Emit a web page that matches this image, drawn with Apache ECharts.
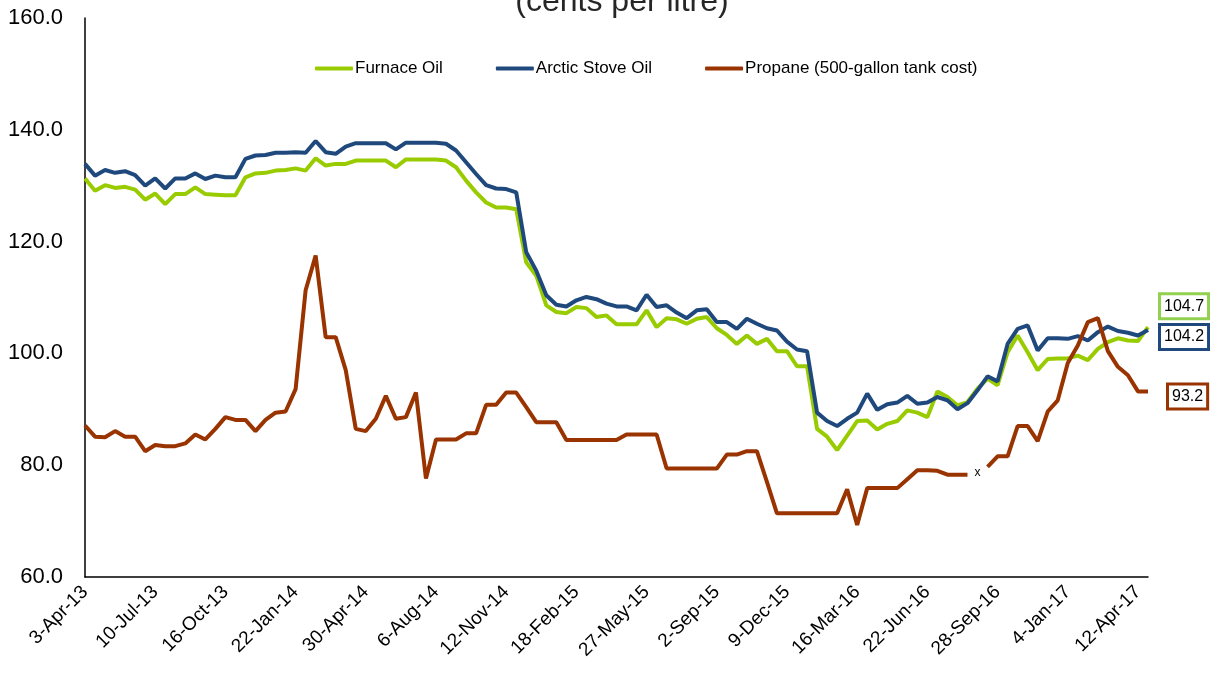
<!DOCTYPE html>
<html>
<head>
<meta charset="utf-8">
<title>Heating fuel prices</title>
<script src="https://cdn.jsdelivr.net/npm/echarts@6/dist/echarts.min.js"></script>
<style>
  html, body { margin: 0; padding: 0; background: #fff; }
  #chart { width: 1210px; height: 674px; }
</style>
</head>
<body>
<div id="chart"></div>
<script>
// every second Wednesday, 3-Apr-13 .. 26-Apr-17
const dates = [
  '3-Apr-13', '17-Apr-13', '1-May-13', '15-May-13', '29-May-13', '12-Jun-13', '26-Jun-13',
  '10-Jul-13', '24-Jul-13', '7-Aug-13', '21-Aug-13', '4-Sep-13', '18-Sep-13', '2-Oct-13',
  '16-Oct-13', '30-Oct-13', '13-Nov-13', '27-Nov-13', '11-Dec-13', '25-Dec-13', '8-Jan-14',
  '22-Jan-14', '5-Feb-14', '19-Feb-14', '5-Mar-14', '19-Mar-14', '2-Apr-14', '16-Apr-14',
  '30-Apr-14', '14-May-14', '28-May-14', '11-Jun-14', '25-Jun-14', '9-Jul-14', '23-Jul-14',
  '6-Aug-14', '20-Aug-14', '3-Sep-14', '17-Sep-14', '1-Oct-14', '15-Oct-14', '29-Oct-14',
  '12-Nov-14', '26-Nov-14', '10-Dec-14', '24-Dec-14', '7-Jan-15', '21-Jan-15', '4-Feb-15',
  '18-Feb-15', '4-Mar-15', '18-Mar-15', '1-Apr-15', '15-Apr-15', '29-Apr-15', '13-May-15',
  '27-May-15', '10-Jun-15', '24-Jun-15', '8-Jul-15', '22-Jul-15', '5-Aug-15', '19-Aug-15',
  '2-Sep-15', '16-Sep-15', '30-Sep-15', '14-Oct-15', '28-Oct-15', '11-Nov-15', '25-Nov-15',
  '9-Dec-15', '23-Dec-15', '6-Jan-16', '20-Jan-16', '3-Feb-16', '17-Feb-16', '2-Mar-16',
  '16-Mar-16', '30-Mar-16', '13-Apr-16', '27-Apr-16', '11-May-16', '25-May-16', '8-Jun-16',
  '22-Jun-16', '6-Jul-16', '20-Jul-16', '3-Aug-16', '17-Aug-16', '31-Aug-16', '14-Sep-16',
  '28-Sep-16', '12-Oct-16', '26-Oct-16', '9-Nov-16', '23-Nov-16', '7-Dec-16', '21-Dec-16',
  '4-Jan-17', '18-Jan-17', '1-Feb-17', '15-Feb-17', '1-Mar-17', '15-Mar-17', '29-Mar-17',
  '12-Apr-17', '26-Apr-17'
];

const furnaceOil = [
  131.3, 129.1, 130.1, 129.6, 129.8, 129.3, 127.5,
  128.6, 126.7, 128.5, 128.5, 129.7, 128.5, 128.4,
  128.3, 128.3, 131.5, 132.2, 132.3, 132.7, 132.8,
  133.1, 132.7, 134.9, 133.6, 133.9, 133.9, 134.5,
  134.5, 134.5, 134.5, 133.3, 134.7, 134.7, 134.7,
  134.7, 134.5, 133.3, 130.9, 128.8, 127.0, 126.1,
  126.1, 125.8, 116.3, 113.9, 108.6, 107.4, 107.2,
  108.3, 108.1, 106.5, 106.8, 105.2, 105.2, 105.2,
  107.7, 104.7, 106.3, 106.1, 105.3, 106.2, 106.5,
  104.5, 103.3, 101.7, 103.2, 101.7, 102.6, 100.4,
  100.4, 97.7, 97.7, 86.5, 85.1, 82.7, 85.3,
  87.9, 88.0, 86.4, 87.4, 87.9, 89.8, 89.4,
  88.6, 93.2, 92.2, 90.7, 91.3, 93.7, 95.5,
  94.3, 100.2, 103.2, 100.2, 97.0, 99.0, 99.1,
  99.1, 99.6, 98.8, 100.8, 102.0, 102.7, 102.3,
  102.2, 104.7
];

const arcticStoveOil = [
  133.9, 131.8, 132.8, 132.3, 132.6, 131.9, 130.0,
  131.3, 129.5, 131.3, 131.3, 132.2, 131.2, 131.8,
  131.5, 131.5, 134.8, 135.4, 135.5, 135.9, 135.9,
  136.0, 135.9, 138.0, 136.0, 135.7, 137.0, 137.6,
  137.6, 137.6, 137.6, 136.5, 137.7, 137.7, 137.7,
  137.7, 137.5, 136.3, 134.2, 132.1, 130.1, 129.5,
  129.4, 128.8, 118.1, 114.8, 110.4, 108.7, 108.4,
  109.5, 110.1, 109.7, 108.9, 108.4, 108.4, 107.7,
  110.5, 108.3, 108.6, 107.3, 106.3, 107.7, 107.9,
  105.6, 105.6, 104.4, 106.2, 105.3, 104.5, 104.1,
  102.1, 100.7, 100.4, 89.4, 87.9, 87.0, 88.3,
  89.4, 92.8, 89.9, 90.9, 91.2, 92.4, 91.0,
  91.2, 92.2, 91.6, 90.0, 91.1, 93.4, 95.9,
  95.0, 101.7, 104.4, 105.0, 100.5, 102.7, 102.7,
  102.6, 103.1, 102.3, 103.8, 104.8, 104.0, 103.7,
  103.2, 104.2
];

// one week has no propane price (marked "x" on the chart)
const propane = [
  87.1, 85.1, 85.0, 86.1, 85.1, 85.1, 82.5,
  83.6, 83.4, 83.4, 83.9, 85.5, 84.6, 86.5,
  88.6, 88.1, 88.1, 86.1, 88.1, 89.4, 89.6,
  93.6, 111.3, 117.5, 102.9, 102.9, 97.0, 86.5,
  86.1, 88.3, 92.4, 88.3, 88.6, 93.0, 77.6,
  84.6, 84.6, 84.6, 85.7, 85.7, 90.8, 90.8,
  93.0, 93.0, 90.4, 87.7, 87.7, 87.7, 84.5,
  84.5, 84.5, 84.5, 84.5, 84.5, 85.5, 85.5,
  85.5, 85.5, 79.4, 79.4, 79.4, 79.4, 79.4,
  79.4, 81.9, 81.9, 82.5, 82.5, 77.0, 71.4,
  71.4, 71.4, 71.4, 71.4, 71.4, 71.4, 75.7,
  69.3, 75.9, 75.9, 75.9, 75.9, 77.5, 79.1,
  79.1, 79.0, 78.3, 78.3, 78.3, null, 79.7,
  81.6, 81.6, 87.0, 87.0, 84.3, 89.6, 91.6,
  98.3, 101.4, 105.6, 106.3, 100.4, 97.6, 96.1,
  93.2, 93.2
];
const propaneGapDate = '31-Aug-16';
const propaneGapLevel = 78.7;

const yTicks = { min: 60, max: 160, interval: 20 };

const FONT = '"Liberation Sans", Arial, sans-serif';
const GREEN = '#99cc00';
const BLUE = '#1f497d';
const RUST = '#993300';

function endLabel(border, offset) {
  return {
    show: true,
    formatter: (p) => p.value.toFixed(1),
    color: '#000',
    fontSize: 16,
    fontFamily: FONT,
    backgroundColor: '#fff',
    borderColor: border,
    borderWidth: 3,
    padding: [3, 3],
    distance: 8,
    offset: offset
  };
}

const chart = echarts.init(document.getElementById('chart'));

chart.setOption({
  animation: false,
  backgroundColor: '#fff',
  title: {
    text: '(cents per litre)',
    left: 617,
    textAlign: 'center',
    top: -19,
    textStyle: { fontFamily: FONT, fontSize: 32, fontWeight: 'normal', color: '#262626' }
  },
  legend: {
    data: ['Furnace Oil', 'Arctic Stove Oil', 'Propane (500-gallon tank cost)'],
    left: 310,
    top: 55,
    icon: 'roundRect',
    itemWidth: 38,
    itemHeight: 4,
    itemGap: 53,
    textStyle: { fontFamily: FONT, fontSize: 17, color: '#000', padding: [0, 0, 0, -3] }
  },
  grid: { left: 85, right: 62, top: 18, bottom: 97 },
  xAxis: {
    type: 'category',
    data: dates,
    boundaryGap: false,
    axisLine: { lineStyle: { color: '#000', width: 1.5 } },
    axisTick: { show: false },
    axisLabel: {
      interval: 6,
      rotate: 45,
      margin: 12,
      color: '#000',
      fontSize: 19,
      fontFamily: FONT
    },
    splitLine: { show: false }
  },
  yAxis: {
    type: 'value',
    min: yTicks.min,
    max: yTicks.max,
    interval: yTicks.interval,
    axisLine: { show: true, lineStyle: { color: '#000', width: 1.5 } },
    axisTick: { show: false },
    axisLabel: {
      formatter: (v) => v.toFixed(1),
      color: '#000',
      fontSize: 22,
      fontFamily: FONT,
      margin: 22
    },
    splitLine: { show: false }
  },
  series: [
    {
      name: 'Furnace Oil',
      type: 'line',
      data: furnaceOil,
      showSymbol: false,
      color: GREEN,
      lineStyle: { width: 4, color: GREEN },
      endLabel: endLabel('#92d050', [5, -21])
    },
    {
      name: 'Arctic Stove Oil',
      type: 'line',
      data: arcticStoveOil,
      showSymbol: false,
      color: BLUE,
      lineStyle: { width: 4, color: BLUE },
      endLabel: endLabel(BLUE, [5, 7])
    },
    {
      name: 'Propane (500-gallon tank cost)',
      type: 'line',
      data: propane,
      showSymbol: false,
      connectNulls: false,
      color: RUST,
      lineStyle: { width: 4, color: RUST },
      endLabel: endLabel(RUST, [13, 5]),
      markPoint: {
        symbol: 'circle',
        symbolSize: 1,
        itemStyle: { color: 'rgba(0,0,0,0)' },
        label: {
          show: true,
          position: 'inside',
          formatter: 'x',
          color: '#000',
          fontSize: 12,
          fontFamily: FONT
        },
        data: [{ coord: [propaneGapDate, propaneGapLevel] }]
      }
    }
  ]
});
</script>
</body>
</html>
